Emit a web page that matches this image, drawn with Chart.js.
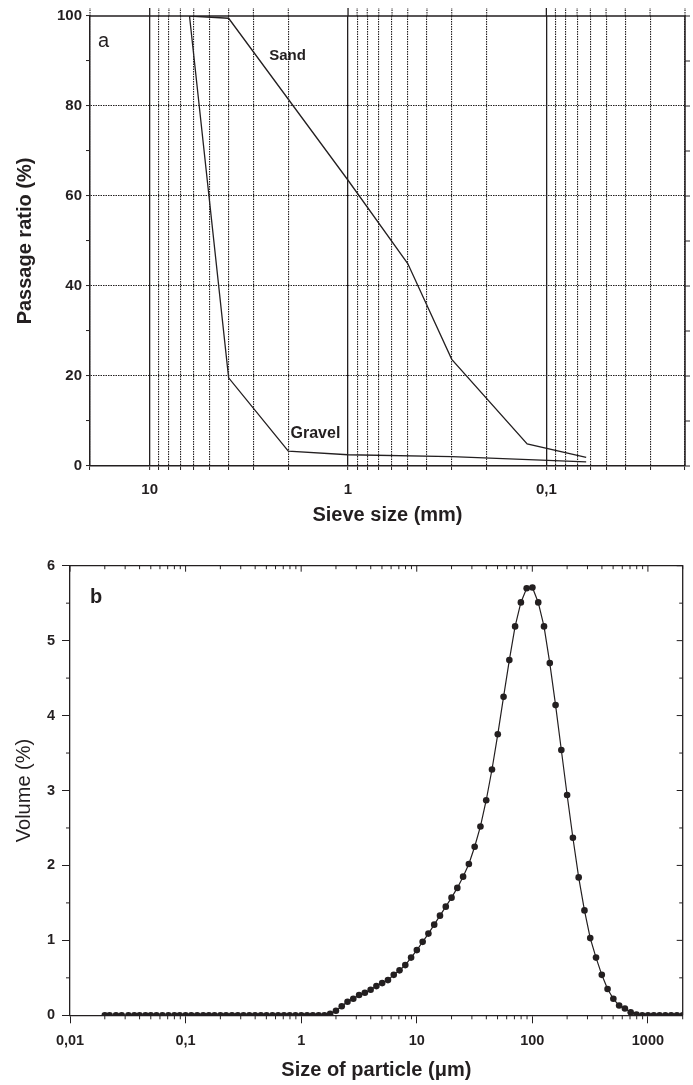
<!DOCTYPE html>
<html>
<head>
<meta charset="utf-8">
<script src="https://cdn.jsdelivr.net/npm/chart.js@4.4.1/dist/chart.umd.min.js"></script>
<style>
  body { margin: 0; background: #fff; }
  #wrapA { position: absolute; left: 0; top: 0; }
  #wrapB { position: absolute; left: 0; top: 540px; }
</style>
</head>
<body>
<div id="wrapA"><canvas id="chartA" width="693" height="540"></canvas></div>
<div id="wrapB"><canvas id="chartB" width="693" height="545"></canvas></div>
<script>
// --- panel a : sieve analysis (mm, % passing) ---
const sieveSand = [6.3, 4, 1, 0.5, 0.3, 0.125, 0.063];
const passSand = [100, 99.5, 63.5, 45, 23.7, 4.9, 1.9];
const sieveGravel = [6.3, 4, 2, 1, 0.3, 0.063];
const passGravel = [100, 19.6, 3.3, 2.5, 2.1, 0.9];
const sieveTickValues = [10, 1, 0.1];
const sieveTickLabels = ['10', '1', '0,1'];

// --- panel b : particle size distribution (um, volume %) ---
const particleSize = [
  0.020, 0.022, 0.025, 0.028, 0.032, 0.036, 0.040, 0.045, 0.050, 0.056,
  0.063, 0.071, 0.080, 0.089, 0.100, 0.112, 0.126, 0.142, 0.159, 0.178,
  0.200, 0.224, 0.252, 0.283, 0.317, 0.356, 0.399, 0.448, 0.502, 0.564,
  0.632, 0.710, 0.796, 0.893, 1.002, 1.125, 1.262, 1.416, 1.589, 1.783,
  2.000, 2.244, 2.518, 2.825, 3.170, 3.557, 3.991, 4.477, 5.024, 5.637,
  6.325, 7.096, 7.962, 8.934, 10.02, 11.25, 12.62, 14.16, 15.89, 17.83,
  20.00, 22.44, 25.18, 28.25, 31.70, 35.57, 39.91, 44.77, 50.24, 56.37,
  63.25, 70.96, 79.62, 89.34, 100.2, 112.5, 126.2, 141.6, 158.9, 178.2,
  200.0, 224.4, 251.8, 282.5, 317.0, 355.7, 399.1, 447.7, 502.4, 563.7,
  632.5, 709.6, 796.2, 893.4, 1002, 1125, 1262, 1416, 1589, 1783,
  2000
];
const volumePct = [
  0, 0, 0, 0, 0, 0, 0, 0, 0, 0,
  0, 0, 0, 0, 0, 0, 0, 0, 0, 0,
  0, 0, 0, 0, 0, 0, 0, 0, 0, 0,
  0, 0, 0, 0, 0, 0, 0, 0, 0, 0.02,
  0.06, 0.12, 0.18, 0.22, 0.27, 0.30, 0.34, 0.39, 0.43, 0.47,
  0.54, 0.60, 0.67, 0.77, 0.87, 0.98, 1.09, 1.21, 1.33, 1.45,
  1.57, 1.70, 1.85, 2.02, 2.25, 2.52, 2.87, 3.28, 3.75, 4.25,
  4.74, 5.19, 5.51, 5.70, 5.71, 5.51, 5.19, 4.70, 4.14, 3.54,
  2.94, 2.37, 1.84, 1.40, 1.03, 0.77, 0.54, 0.35, 0.22, 0.13,
  0.09, 0.04, 0.01, 0, 0, 0, 0, 0, 0, 0,
  0
];
const sizeTickValues = [0.01, 0.1, 1, 10, 100, 1000];
const sizeTickLabels = ['0,01', '0,1', '1', '10', '100', '1000'];

const INK = '#231f20';
const FONT = "'Liberation Sans', Arial, sans-serif";
const NONE = 'rgba(0,0,0,0)';
const DOT = [1.5, 1];

function isDecade(v) {
  const l = Math.log10(v);
  return Math.abs(l - Math.round(l)) < 1e-6;
}
// garder seulement 1..9 x 10^n (chart.js ajoute parfois 15, 0.015 ...)
function isWholeSignificand(v) {
  const s = v / Math.pow(10, Math.floor(Math.log10(v) + 1e-9));
  return Math.abs(s - Math.round(s)) < 1e-6;
}
function keepWholeTicks(s) {
  s.ticks = s.ticks.filter(t => isWholeSignificand(t.value));
}
function pickLabel(v, values, labels) {
  const i = values.findIndex(t => Math.abs(Math.log10(t) - Math.log10(v)) < 1e-6);
  return i < 0 ? '' : labels[i];
}
function toPoints(xs, ys) {
  return xs.map((x, i) => ({ x: x, y: ys[i] }));
}
function line(ctx, x1, y1, x2, y2) {
  ctx.beginPath(); ctx.moveTo(x1, y1); ctx.lineTo(x2, y2); ctx.stroke();
}

// texte dans le graphique, place en coordonnees de donnees
const notesA = [
  { text: 'a', x: 17.1, y: 94.4, font: '20px ' + FONT },
  { text: 'Sand', x: 2.02, y: 91.1, font: 'bold 15px ' + FONT },
  { text: 'Gravel', x: 1.46, y: 7.1, font: 'bold 16px ' + FONT }
];
const notesB = [
  { text: 'b', x: 0.0168, y: 5.57, font: 'bold 20px ' + FONT }
];

function drawNotes(ctx, x, y, notes) {
  ctx.fillStyle = INK;
  ctx.textAlign = 'center';
  ctx.textBaseline = 'middle';
  notes.forEach(n => {
    ctx.font = n.font;
    ctx.fillText(n.text, x.getPixelForValue(n.x), y.getPixelForValue(n.y));
  });
}

// cadre + graduations miroir du panneau a
const panelA = {
  id: 'panelA',
  afterDraw(chart) {
    const { ctx, chartArea: a, scales: { x, y } } = chart;
    ctx.save();
    ctx.strokeStyle = INK;
    ctx.lineWidth = 1.5;
    ctx.beginPath();
    ctx.moveTo(a.left, a.top); ctx.lineTo(a.right, a.top); ctx.lineTo(a.right, a.bottom);
    ctx.stroke();
    x.ticks.forEach(t => {
      const px = x.getPixelForValue(t.value);
      const major = isDecade(t.value);
      ctx.lineWidth = major ? 1.3 : 1.1;
      ctx.setLineDash(major ? [] : DOT);
      line(ctx, px, a.top, px, a.top - 8);
    });
    ctx.setLineDash([]);
    ctx.lineWidth = 1;
    y.ticks.forEach(t => {
      const py = y.getPixelForValue(t.value);
      line(ctx, a.right, py, a.right + 5, py);
    });
    drawNotes(ctx, x, y, notesA);
    ctx.restore();
  }
};

// cadre + petites graduations du panneau b
const panelB = {
  id: 'panelB',
  afterDraw(chart) {
    const { ctx, chartArea: a, scales: { x, y } } = chart;
    ctx.save();
    ctx.strokeStyle = INK;
    ctx.lineWidth = 1.3;
    ctx.beginPath();
    ctx.moveTo(a.left, a.top); ctx.lineTo(a.right, a.top); ctx.lineTo(a.right, a.bottom);
    ctx.stroke();
    ctx.lineWidth = 1;
    x.ticks.forEach(t => {
      const px = x.getPixelForValue(t.value);
      const major = isDecade(t.value);
      if (!major) line(ctx, px, a.bottom, px, a.bottom + 4);
      line(ctx, px, a.top, px, a.top + (major ? 6 : 3.5));
    });
    y.ticks.forEach(t => {
      const py = y.getPixelForValue(t.value);
      const major = Math.abs(t.value - Math.round(t.value)) < 1e-6;
      if (!major) line(ctx, a.left, py, a.left - 4, py);
      line(ctx, a.right, py, a.right - (major ? 6 : 3.5), py);
    });
    drawNotes(ctx, x, y, notesB);
    ctx.restore();
  }
};

const tickFont = { family: FONT, size: 15, weight: 'bold' };

// ---- panel a ----
new Chart(document.getElementById('chartA'), {
  type: 'line',
  data: {
    datasets: [
      { label: 'Sand', data: toPoints(sieveSand, passSand), borderColor: INK, borderWidth: 1.3, pointRadius: 0, tension: 0 },
      { label: 'Gravel', data: toPoints(sieveGravel, passGravel), borderColor: INK, borderWidth: 1.3, pointRadius: 0, tension: 0 }
    ]
  },
  options: {
    responsive: false,
    animation: false,
    events: [],
    layout: { padding: { top: 16, right: 8, left: 0, bottom: 0 } },
    plugins: { legend: { display: false }, tooltip: { enabled: false } },
    scales: {
      x: {
        type: 'logarithmic',
        reverse: true,
        min: 0.02,
        max: 20,
        afterBuildTicks: keepWholeTicks,
        afterFit: s => { s.height = 74; s.paddingLeft = 0; s.paddingRight = 0; },
        border: { color: INK, width: 1.5, dash: c => (c.tick && !isDecade(c.tick.value)) ? DOT : [] },
        grid: {
          color: INK,
          lineWidth: c => (c.tick && isDecade(c.tick.value)) ? 1.3 : 1.1,
          tickLength: 4,
          tickColor: INK,
          tickWidth: 1
        },
        ticks: {
          autoSkip: false, maxRotation: 0, padding: 11, color: INK, font: tickFont,
          callback: v => pickLabel(v, sieveTickValues, sieveTickLabels)
        },
        title: {
          display: true, text: 'Sieve size (mm)', color: INK,
          font: { family: FONT, size: 20, weight: 'bold' }, padding: { top: 0, bottom: 13 }
        }
      },
      y: {
        min: 0,
        max: 100,
        afterFit: s => { s.width = 90; },
        border: { color: INK, width: 1.5, dash: c => c.tick ? DOT : [] },
        grid: {
          color: c => {
            const v = c.tick ? Math.round(c.tick.value) : 0;
            return (v % 20 === 0 && v > 0 && v < 100) ? INK : NONE;
          },
          lineWidth: 1.1,
          tickLength: 4,
          tickColor: INK,
          tickWidth: 1
        },
        ticks: {
          stepSize: 10, padding: 4, color: INK, font: tickFont,
          callback: v => Math.round(v) % 20 === 0 ? Math.round(v) : ''
        },
        title: {
          display: true, text: 'Passage ratio (%)', color: INK,
          font: { family: FONT, size: 20, weight: 'bold' }, padding: { top: 13, bottom: 0 }
        }
      }
    }
  },
  plugins: [panelA]
});

// ---- panel b ----
new Chart(document.getElementById('chartB'), {
  type: 'line',
  data: {
    datasets: [{
      label: 'Volume',
      data: toPoints(particleSize, volumePct),
      borderColor: INK,
      borderWidth: 1.2,
      pointRadius: 3.3,
      pointBackgroundColor: INK,
      pointBorderWidth: 0,
      tension: 0
    }]
  },
  options: {
    responsive: false,
    animation: false,
    events: [],
    layout: { padding: { top: 25.7, right: 10.3, left: 0, bottom: 0 } },
    plugins: { legend: { display: false }, tooltip: { enabled: false } },
    scales: {
      x: {
        type: 'logarithmic',
        min: 0.01,
        max: 2000,
        afterBuildTicks: keepWholeTicks,
        afterFit: s => { s.height = 69.7; s.paddingLeft = 0; s.paddingRight = 0; },
        border: { color: INK, width: 1.3 },
        grid: {
          drawOnChartArea: false,
          tickLength: 8,
          tickColor: c => (c.tick && isDecade(c.tick.value)) ? INK : NONE,
          tickWidth: 1
        },
        ticks: {
          autoSkip: false, maxRotation: 0, padding: 9, color: INK,
          font: { family: FONT, size: 14.5, weight: 'bold' },
          callback: v => pickLabel(v, sizeTickValues, sizeTickLabels)
        },
        title: {
          display: true, text: 'Size of particle (\u03bcm)', color: INK,
          font: { family: FONT, size: 20, weight: 'bold' }, padding: { top: 0, bottom: 3 }
        }
      },
      y: {
        min: 0,
        max: 6,
        afterFit: s => { s.width = 70; },
        border: { color: INK, width: 1.3 },
        grid: {
          drawOnChartArea: false,
          tickLength: 8,
          tickColor: c => (c.tick && Math.abs(c.tick.value - Math.round(c.tick.value)) < 1e-6) ? INK : NONE,
          tickWidth: 1
        },
        ticks: {
          stepSize: 0.5, padding: 7, color: INK,
          font: { family: FONT, size: 14.5, weight: 'bold' },
          callback: v => Math.abs(v - Math.round(v)) < 1e-6 ? Math.round(v) : ''
        },
        title: {
          display: true, text: 'Volume (%)', color: INK,
          font: { family: FONT, size: 20 }, padding: { top: 12, bottom: 0 }
        }
      }
    }
  },
  plugins: [panelB]
});
</script>
</body>
</html>
